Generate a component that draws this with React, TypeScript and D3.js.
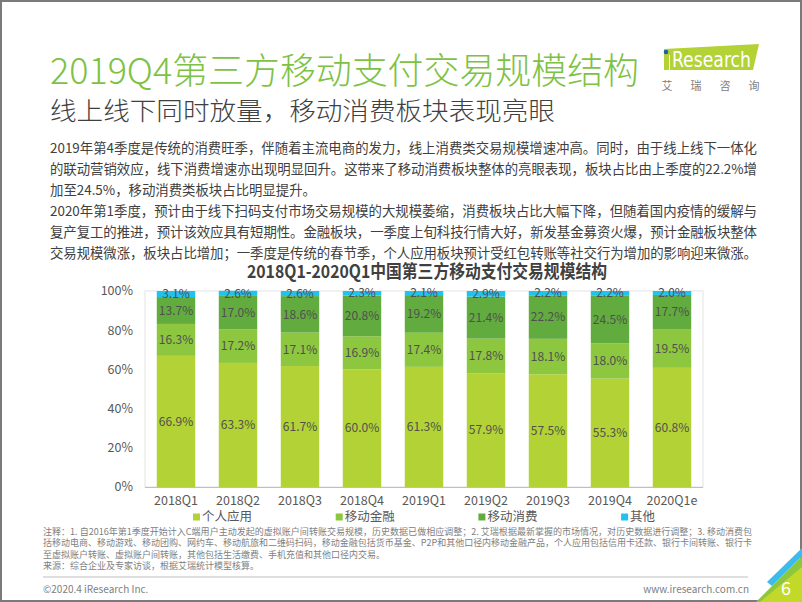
import React from "react";
import * as d3 from "d3";

const categories = ["2018Q1", "2018Q2", "2018Q3", "2018Q4", "2019Q1", "2019Q2", "2019Q3", "2019Q4", "2020Q1e"];
const seriesNames = ["个人应用", "移动金融", "移动消费", "其他"];
const personal = [66.9, 63.3, 61.7, 60.0, 61.3, 57.9, 57.5, 55.3, 60.8];
const finance = [16.3, 17.2, 17.1, 16.9, 17.4, 17.8, 18.1, 18.0, 19.5];
const consumption = [13.7, 17.0, 18.6, 20.8, 19.2, 21.4, 22.2, 24.5, 17.7];
const others = [3.1, 2.6, 2.6, 2.3, 2.1, 2.9, 2.2, 2.2, 2.0];
const yTicks = [0, 20, 40, 60, 80, 100];
const colors = ["#b3d235", "#8dc63f", "#62ab3e", "#1fc3f0"];

const paragraph = [
  "2019年第4季度是传统的消费旺季，伴随着主流电商的发力，线上消费类交易规模增速冲高。同时，由于线上线下一体化",
  "的联动营销效应，线下消费增速亦出现明显回升。这带来了移动消费板块整体的亮眼表现，板块占比由上季度的22.2%增",
  "加至24.5%，移动消费类板块占比明显提升。",
  "2020年第1季度，预计由于线下扫码支付市场交易规模的大规模萎缩，消费板块占比大幅下降，但随着国内疫情的缓解与",
  "复产复工的推进，预计该效应具有短期性。金融板块，一季度上旬科技行情大好，新发基金募资火爆，预计金融板块整体",
  "交易规模微涨，板块占比增加；一季度是传统的春节季，个人应用板块预计受红包转账等社交行为增加的影响迎来微涨。",
];
const paragraphJustify = [true, true, false, true, true, true];

const notes = [
  "注释：1. 自2016年第1季度开始计入C端用户主动发起的虚拟账户间转账交易规模，历史数据已做相应调整；2. 艾瑞根据最新掌握的市场情况，对历史数据进行调整；3. 移动消费包",
  "括移动电商、移动游戏、移动团购、网约车、移动航旅和二维码扫码，移动金融包括货币基金、P2P和其他口径内移动金融产品，个人应用包括信用卡还款、银行卡间转账、银行卡",
  "至虚拟账户转账、虚拟账户间转账，其他包括生活缴费、手机充值和其他口径内交易。",
  "来源：综合企业及专家访谈，根据艾瑞统计模型核算。",
];
const notesJustify = [true, true, false, false];

const FONT = "'Noto Sans CJK SC', 'Noto Sans', sans-serif";

export default function App() {
  const W = 802, H = 602;
  const plot = { left: 145, right: 703, top: 291, bottom: 487 };
  const x = d3.scaleBand<string>().domain(categories).range([plot.left, plot.right]).paddingInner(0.38).paddingOuter(0.19);
  const y = d3.scaleLinear().domain([0, 100]).range([plot.bottom, plot.top]);

  const rows = categories.map((c, i) => ({ cat: c, 个人应用: personal[i], 移动金融: finance[i], 移动消费: consumption[i], 其他: others[i] }));
  const stack = d3.stack<any>().keys(seriesNames)(rows);

  const fmt = (v: number) => v.toFixed(1) + "%";

  return (
    <svg width={W} height={H} style={{ position: "absolute", left: 0, top: 0, background: "#fff" }} fontFamily={FONT}>
      <rect x={0} y={0} width={W} height={H} fill="#fff" />
      <rect x={1} y={1} width={W - 2} height={H - 2} fill="none" stroke="#7a7a7a" strokeWidth={2} />

      {/* Title */}
      <text x={50} y={84} fontSize={36} fill="#7dc243" fontWeight={300} textLength={589} lengthAdjust="spacingAndGlyphs">2019Q4第三方移动支付交易规模结构</text>
      <text x={50} y={120} fontSize={25} fill="#404040" fontWeight={300} textLength={505} lengthAdjust="spacingAndGlyphs">线上线下同时放量，移动消费板块表现亮眼</text>

      {/* Logo */}
      <polygon points="664,49 759,44 753,70 664,70" fill="#b3d235" />
      <circle cx={666} cy={52} r={2.3} fill="#1b5fae" />
      <line x1={669.5} x2={669.5} y1={55} y2={70} stroke="#fff" strokeWidth={1} />
      <text x={672} y={67} fontSize={22} fill="#fff" fontFamily="'DejaVu Sans Condensed', 'Liberation Sans Narrow', sans-serif" textLength={79} lengthAdjust="spacingAndGlyphs">Research</text>
      {["艾", "瑞", "咨", "询"].map((ch, i) => (
        <text key={ch} x={667 + i * 29} y={90} fontSize={11} fill="#808080" textAnchor="middle">{ch}</text>
      ))}

      {/* Paragraph */}
      {paragraph.map((line, i) => (
        <text key={i} x={50} y={153 + i * 21} fontSize={13.4} fill="#404040"
          {...(paragraphJustify[i] ? { textLength: 707, lengthAdjust: "spacing" } : {})}>{line}</text>
      ))}

      {/* Chart title */}
      <text x={427} y={278} fontSize={18} fontWeight={700} fill="#404040" textAnchor="middle" textLength={360} lengthAdjust="spacingAndGlyphs">2018Q1-2020Q1中国第三方移动支付交易规模结构</text>

      {/* Plot frame */}
      <rect x={plot.left} y={plot.top} width={plot.right - plot.left} height={plot.bottom - plot.top} fill="none" stroke="#e3e3e3" strokeWidth={1} />

      {/* Y ticks */}
      {yTicks.map((t) => (
        <text key={t} x={133} y={y(t)} dy="0.35em" fontSize={12.5} fill="#595959" textAnchor="end">{t}%</text>
      ))}

      {/* Bars */}
      {stack.map((layer, si) => (
        <g key={layer.key}>
          {layer.map((d: any, i: number) => (
            <rect key={i} x={x(categories[i])} y={y(d[1])} width={x.bandwidth()} height={y(d[0]) - y(d[1])} fill={colors[si]} />
          ))}
        </g>
      ))}

      {/* Labels */}
      {stack.map((layer, si) => (
        <g key={"l" + layer.key}>
          {layer.map((d: any, i: number) => (
            <text key={i} x={(x(categories[i]) as number) + x.bandwidth() / 2} y={y((d[0] + d[1]) / 2)} dy="0.35em"
              fontSize={12} fill="#505050" textAnchor="middle">{fmt(d[1] - d[0])}</text>
          ))}
        </g>
      ))}

      {/* X axis */}
      <line x1={plot.left} x2={plot.right} y1={plot.bottom + 0.5} y2={plot.bottom + 0.5} stroke="#bfbfbf" />
      {categories.map((c) => (
        <text key={c} x={(x(c) as number) + x.bandwidth() / 2} y={501} dy="0.35em" fontSize={12.5} fill="#595959" textAnchor="middle">{c}</text>
      ))}

      {/* Legend */}
      {seriesNames.map((s, i) => (
        <g key={s} transform={`translate(${193 + i * 142.7},517)`}>
          <rect x={0} y={-3.5} width={7} height={7} fill={colors[i]} />
          <text x={9} y={0} dy="0.35em" fontSize={12.5} fill="#595959">{s}</text>
        </g>
      ))}

      {/* Notes */}
      {notes.map((line, i) => (
        <text key={i} x={43} y={535 + i * 11.3} fontSize={9} fill="#808080"
          {...(notesJustify[i] ? { textLength: 709, lengthAdjust: "spacing" } : {})}>{line}</text>
      ))}

      {/* Footer */}
      <line x1={43} x2={748} y1={577} y2={577} stroke="#bfbfbf" />
      <text x={43} y={593} fontSize={10} fill="#808080">©2020.4 iResearch Inc.</text>
      <text x={749} y={593} fontSize={10} fill="#808080" textAnchor="end">www.iresearch.com.cn</text>

      {/* Corner decoration */}
      <polygon points="802,556 802,602 756,602" fill="#8dc63f" />
      <polygon points="802,548 802,556 772,586 767,582" fill="#3bbcec" />
      <polygon points="760,602 802,567 802,602" fill="#c2d92a" />
      <text x={786} y={595} fontSize={18} fill="#fff" textAnchor="middle">6</text>
    </svg>
  );
}
